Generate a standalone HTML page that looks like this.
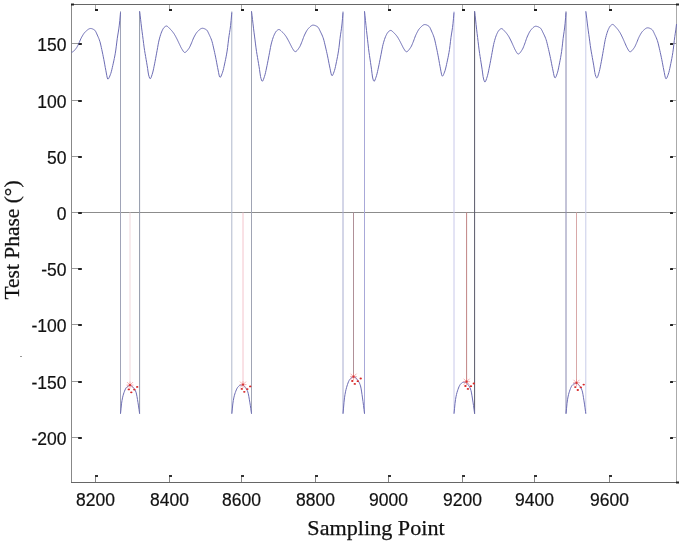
<!DOCTYPE html>
<html><head><meta charset="utf-8"><style>
html,body{margin:0;padding:0;background:#fff;}
body{width:685px;height:546px;position:relative;overflow:hidden;filter:blur(0.3px);}
.yl{position:absolute;left:0;width:66.5px;text-align:right;font:17.5px/20px "Liberation Sans",sans-serif;color:#111;-webkit-text-stroke:0.2px #111;}
.xl{position:absolute;top:489.5px;width:60px;text-align:center;font:17.5px/20px "Liberation Sans",sans-serif;color:#111;-webkit-text-stroke:0.2px #111;}
.ylab{position:absolute;left:12.2px;top:240.1px;transform:translate(-50%,-50%) rotate(-90deg) scaleX(1.073);white-space:nowrap;font:20px/22px "Liberation Serif",serif;color:#111;-webkit-text-stroke:0.25px #111;}
.xlab{position:absolute;left:376.3px;top:516.1px;transform:translateX(-50%) scaleX(1.055);white-space:nowrap;font:21px/24px "Liberation Serif",serif;color:#111;-webkit-text-stroke:0.25px #111;}
</style></head><body>
<svg width="685" height="546" viewBox="0 0 685 546" style="position:absolute;left:0;top:0">
<g fill="none" stroke-width="1">
<line x1="71.5" y1="4" x2="71.5" y2="483" stroke="#888"/>
<line x1="71" y1="4.5" x2="677" y2="4.5" stroke="#666"/>
<line x1="71" y1="482.5" x2="677" y2="482.5" stroke="#666"/>
<line x1="676.5" y1="4" x2="676.5" y2="483" stroke="#aaa"/>
<line x1="72" y1="212.5" x2="676" y2="212.5" stroke="#8c8c8c"/>
</g>
<rect x="71" y="3.5" width="3" height="2" fill="#222"/>
<rect x="676" y="3.5" width="3" height="2" fill="#222"/>
<rect x="676" y="481.5" width="3" height="2" fill="#222"/>
<rect x="20" y="356" width="2" height="1" fill="#999"/>
<rect x="95" y="475" width="1" height="7" fill="#888"/><rect x="95" y="475" width="3" height="2" fill="#333"/><rect x="95" y="5" width="1" height="5" fill="#aaa"/><rect x="95" y="9" width="3" height="2" fill="#222"/><rect x="169" y="475" width="1" height="7" fill="#888"/><rect x="169" y="475" width="3" height="2" fill="#333"/><rect x="169" y="5" width="1" height="5" fill="#aaa"/><rect x="169" y="9" width="3" height="2" fill="#222"/><rect x="241" y="475" width="1" height="7" fill="#888"/><rect x="241" y="475" width="3" height="2" fill="#333"/><rect x="241" y="5" width="1" height="5" fill="#aaa"/><rect x="241" y="9" width="3" height="2" fill="#222"/><rect x="315" y="475" width="1" height="7" fill="#888"/><rect x="315" y="475" width="3" height="2" fill="#333"/><rect x="315" y="5" width="1" height="5" fill="#aaa"/><rect x="315" y="9" width="3" height="2" fill="#222"/><rect x="388" y="475" width="1" height="7" fill="#888"/><rect x="388" y="475" width="3" height="2" fill="#333"/><rect x="388" y="5" width="1" height="5" fill="#aaa"/><rect x="388" y="9" width="3" height="2" fill="#222"/><rect x="462" y="475" width="1" height="7" fill="#888"/><rect x="462" y="475" width="3" height="2" fill="#333"/><rect x="462" y="5" width="1" height="5" fill="#aaa"/><rect x="462" y="9" width="3" height="2" fill="#222"/><rect x="534" y="475" width="1" height="7" fill="#888"/><rect x="534" y="475" width="3" height="2" fill="#333"/><rect x="534" y="5" width="1" height="5" fill="#aaa"/><rect x="534" y="9" width="3" height="2" fill="#222"/><rect x="609" y="475" width="1" height="7" fill="#888"/><rect x="609" y="475" width="3" height="2" fill="#333"/><rect x="609" y="5" width="1" height="5" fill="#aaa"/><rect x="609" y="9" width="3" height="2" fill="#222"/><rect x="72" y="43" width="7" height="1" fill="#999"/><rect x="78" y="43" width="4" height="2" rx="0.8" fill="#222"/><rect x="672" y="43" width="4" height="1" fill="#999"/><rect x="670" y="43" width="3" height="2" rx="0.6" fill="#222"/><rect x="72" y="100" width="7" height="1" fill="#999"/><rect x="78" y="100" width="4" height="2" rx="0.8" fill="#222"/><rect x="672" y="100" width="4" height="1" fill="#999"/><rect x="670" y="100" width="3" height="2" rx="0.6" fill="#222"/><rect x="72" y="156" width="7" height="1" fill="#999"/><rect x="78" y="156" width="4" height="2" rx="0.8" fill="#222"/><rect x="672" y="156" width="4" height="1" fill="#999"/><rect x="670" y="156" width="3" height="2" rx="0.6" fill="#222"/><rect x="72" y="212" width="7" height="1" fill="#999"/><rect x="78" y="212" width="4" height="2" rx="0.8" fill="#222"/><rect x="672" y="212" width="4" height="1" fill="#999"/><rect x="670" y="212" width="3" height="2" rx="0.6" fill="#222"/><rect x="72" y="268" width="7" height="1" fill="#999"/><rect x="78" y="268" width="4" height="2" rx="0.8" fill="#222"/><rect x="672" y="268" width="4" height="1" fill="#999"/><rect x="670" y="268" width="3" height="2" rx="0.6" fill="#222"/><rect x="72" y="324" width="7" height="1" fill="#999"/><rect x="78" y="324" width="4" height="2" rx="0.8" fill="#222"/><rect x="672" y="324" width="4" height="1" fill="#999"/><rect x="670" y="324" width="3" height="2" rx="0.6" fill="#222"/><rect x="72" y="381" width="7" height="1" fill="#999"/><rect x="78" y="381" width="4" height="2" rx="0.8" fill="#222"/><rect x="672" y="381" width="4" height="1" fill="#999"/><rect x="670" y="381" width="3" height="2" rx="0.6" fill="#222"/><rect x="72" y="437" width="7" height="1" fill="#999"/><rect x="78" y="437" width="4" height="2" rx="0.8" fill="#222"/><rect x="672" y="437" width="4" height="1" fill="#999"/><rect x="670" y="437" width="3" height="2" rx="0.6" fill="#222"/>
<g fill="none" stroke-width="1">
<line x1="120.5" y1="11.3" x2="120.5" y2="413.7" stroke="#a0a4b8"/><line x1="139.6" y1="11.3" x2="139.6" y2="413.7" stroke="#9098a8"/><line x1="231.8" y1="11.3" x2="231.8" y2="413.7" stroke="#b0b8cc"/><line x1="251.5" y1="11.3" x2="251.5" y2="413.7" stroke="#a0a4b4"/><line x1="343.0" y1="11.3" x2="343.0" y2="413.7" stroke="#a8acd0"/><line x1="364.5" y1="11.3" x2="364.5" y2="413.7" stroke="#a8a8d8"/><line x1="454.0" y1="11.3" x2="454.0" y2="413.7" stroke="#c8c8ea"/><line x1="474.6" y1="11.3" x2="474.6" y2="413.7" stroke="#585868"/><line x1="566.0" y1="11.3" x2="566.0" y2="413.7" stroke="#8888b0"/><line x1="585.8" y1="11.3" x2="585.8" y2="413.7" stroke="#c8cce8"/>
</g>
<g fill="none" stroke="#6c6cb4" stroke-width="1" stroke-linejoin="round">
<polyline points="71.50,52.03 71.80,52.11 72.30,52.03 72.80,51.82 73.30,51.49 73.80,51.06 74.30,50.55 74.80,49.99 75.30,49.38 75.80,48.76 76.30,48.13 76.80,47.40 77.30,46.51 77.80,45.51 78.30,44.46 78.80,43.42 79.30,42.34 79.80,41.17 80.30,39.99 80.80,38.85 81.30,37.83 81.80,36.93 82.30,36.05 82.80,35.20 83.30,34.40 83.80,33.64 84.30,32.96 84.80,32.35 85.30,31.84 85.80,31.39 86.30,30.94 86.80,30.50 87.30,30.08 87.80,29.69 88.30,29.34 88.80,29.03 89.30,28.79 89.80,28.61 90.30,28.52 90.80,28.51 91.30,28.56 91.80,28.67 92.30,28.84 92.80,29.05 93.30,29.30 93.80,29.58 94.30,29.90 94.80,30.26 95.30,30.87 95.80,31.73 96.30,32.77 96.80,33.90 97.30,35.06 97.80,36.16 98.30,37.28 98.80,38.48 99.30,39.79 99.80,41.26 100.30,42.98 100.80,45.07 101.30,47.35 101.80,49.64 102.30,51.96 102.80,54.35 103.30,56.82 103.80,59.35 104.30,62.00 104.80,64.85 105.30,67.68 105.80,70.24 106.30,72.95 106.80,75.71 107.30,77.94 107.80,79.05 108.30,78.91 108.80,78.27 109.30,77.28 109.80,76.07 110.30,74.75 110.80,73.41 111.30,71.75 111.80,69.78 112.30,67.62 112.80,65.38 113.30,63.16 113.80,60.90 114.30,58.53 114.80,55.99 115.30,53.21 115.80,50.04 116.30,46.18 116.80,42.07 117.30,38.25 117.80,35.03 118.30,32.07 118.80,28.91 119.30,25.08 119.80,20.30 120.30,14.78 120.50,12.43"/>
<polyline points="120.50,413.70 121.00,408.89 121.50,403.84 122.00,400.48 122.50,397.87 123.00,395.75 123.50,394.03 124.00,392.55 124.50,391.19 125.00,389.97 125.50,388.91 126.00,388.03 126.50,387.37 127.00,386.86 127.50,386.40 128.00,386.01 128.50,385.73 129.00,385.60 129.50,385.60 130.00,385.60 130.50,385.60 131.00,385.60 131.50,385.73 132.00,386.09 132.50,386.61 133.00,387.21 133.50,387.81 134.00,388.43 134.50,389.13 135.00,389.96 135.50,390.96 136.00,392.18 136.50,394.05 137.00,396.65 137.50,399.62 138.00,402.62 138.50,405.88 139.00,409.33 139.50,412.95 139.60,413.70"/>
<polyline points="139.60,11.30 140.10,15.15 140.60,19.28 141.10,23.68 141.60,27.88 142.10,31.79 142.60,35.59 143.10,39.41 143.60,43.36 144.10,47.17 144.60,50.55 145.10,53.55 145.60,56.43 146.10,59.36 146.60,62.28 147.10,65.23 147.60,68.42 148.10,72.02 148.60,74.93 149.10,76.65 149.60,78.02 150.10,78.72 150.60,78.48 151.10,77.54 151.60,76.15 152.10,74.56 152.60,72.97 153.10,71.02 153.60,68.75 154.10,66.29 154.60,63.82 155.10,61.30 155.60,58.63 156.10,55.90 156.60,53.17 157.10,50.47 157.60,47.64 158.10,44.82 158.60,42.21 159.10,40.01 159.60,38.10 160.10,36.33 160.60,34.71 161.10,33.24 161.60,31.94 162.10,30.81 162.60,29.78 163.10,28.85 163.60,28.06 164.10,27.46 164.60,27.01 165.10,26.60 165.60,26.26 166.10,26.06 166.60,26.04 167.10,26.20 167.60,26.51 168.10,26.92 168.60,27.41 169.10,27.94 169.60,28.47 170.10,28.97 170.60,29.46 171.10,29.99 171.60,30.55 172.10,31.14 172.60,31.76 173.10,32.42 173.60,33.11 174.10,33.84 174.60,34.65 175.10,35.51 175.60,36.42 176.10,37.36 176.60,38.31 177.10,39.28 177.60,40.30 178.10,41.35 178.60,42.41 179.10,43.47 179.60,44.50 180.10,45.55 180.60,46.63 181.10,47.65 181.60,48.55 182.10,49.35 182.60,50.20 183.10,51.00 183.60,51.70 184.10,52.20 184.60,52.44 185.10,52.39 185.60,52.17 186.10,51.82 186.60,51.36 187.10,50.80 187.60,50.18 188.10,49.51 188.60,48.83 189.10,48.14 189.60,47.27 190.10,46.24 190.60,45.12 191.10,43.98 191.60,42.84 192.10,41.59 192.60,40.30 193.10,39.05 193.60,37.92 194.10,36.94 194.60,35.98 195.10,35.06 195.60,34.19 196.10,33.38 196.60,32.66 197.10,32.03 197.60,31.51 198.10,31.02 198.60,30.53 199.10,30.07 199.60,29.63 200.10,29.23 200.60,28.89 201.10,28.61 201.60,28.41 202.10,28.30 202.60,28.28 203.10,28.33 203.60,28.44 204.10,28.59 204.60,28.79 205.10,29.03 205.60,29.30 206.10,29.59 206.60,29.92 207.10,30.46 207.60,31.25 208.10,32.22 208.60,33.29 209.10,34.39 209.60,35.45 210.10,36.51 210.60,37.63 211.10,38.85 211.60,40.20 212.10,41.74 212.60,43.63 213.10,45.76 213.60,47.96 214.10,50.15 214.60,52.40 215.10,54.73 215.60,57.12 216.10,59.57 216.60,62.23 217.10,64.97 217.60,67.57 218.10,69.99 218.60,72.67 219.10,75.15 219.60,76.89 220.10,77.38 220.60,76.98 221.10,76.11 221.60,74.93 222.10,73.58 222.60,72.21 223.10,70.57 223.60,68.56 224.10,66.32 224.60,63.99 225.10,61.68 225.60,59.31 226.10,56.82 226.60,54.11 227.10,51.12 227.60,47.53 228.10,43.33 228.60,39.15 229.10,35.55 229.60,32.43 230.10,29.24 230.60,25.43 231.10,20.58 231.60,14.87 231.80,12.43"/>
<polyline points="231.80,413.70 232.30,408.96 232.80,403.97 233.30,400.54 233.80,397.91 234.30,395.76 234.80,394.01 235.30,392.53 235.80,391.16 236.30,389.92 236.80,388.82 237.30,387.90 237.80,387.17 238.30,386.63 238.80,386.16 239.30,385.73 239.80,385.40 240.30,385.20 240.80,385.15 241.30,385.15 241.80,385.15 242.30,385.15 242.80,385.16 243.30,385.37 243.80,385.78 244.30,386.32 244.80,386.91 245.30,387.51 245.80,388.12 246.30,388.83 246.80,389.66 247.30,390.66 247.80,391.87 248.30,393.72 248.80,396.28 249.30,399.20 249.80,402.14 250.30,405.31 250.80,408.70 251.30,412.23 251.50,413.70"/>
<polyline points="251.50,11.30 252.00,15.21 252.50,19.41 253.00,23.88 253.50,28.18 254.00,32.18 254.50,36.05 255.00,39.92 255.50,43.93 256.00,47.85 256.50,51.38 257.00,54.48 257.50,57.42 258.00,60.39 258.50,63.37 259.00,66.35 259.50,69.46 260.00,73.09 260.50,76.42 261.00,78.45 261.50,80.00 262.00,81.02 262.50,81.15 263.00,80.50 263.50,79.34 264.00,77.88 264.50,76.35 265.00,74.70 265.50,72.68 266.00,70.41 266.50,68.03 267.00,65.67 267.50,63.20 268.00,60.62 268.50,58.00 269.00,55.40 269.50,52.79 270.00,50.07 270.50,47.40 271.00,44.96 271.50,42.93 272.00,41.12 272.50,39.44 273.00,37.90 273.50,36.50 274.00,35.27 274.50,34.19 275.00,33.21 275.50,32.31 276.00,31.54 276.50,30.96 277.00,30.52 277.50,30.12 278.00,29.79 278.50,29.57 279.00,29.52 279.50,29.65 280.00,29.94 280.50,30.34 281.00,30.81 281.50,31.31 282.00,31.80 282.50,32.26 283.00,32.75 283.50,33.27 284.00,33.82 284.50,34.41 285.00,35.04 285.50,35.70 286.00,36.42 286.50,37.22 287.00,38.06 287.50,38.94 288.00,39.83 288.50,40.75 289.00,41.72 289.50,42.71 290.00,43.71 290.50,44.69 291.00,45.67 291.50,46.68 292.00,47.65 292.50,48.48 293.00,49.25 293.50,50.04 294.00,50.76 294.50,51.32 295.00,51.63 295.50,51.62 296.00,51.42 296.50,51.07 297.00,50.59 297.50,50.01 298.00,49.35 298.50,48.64 299.00,47.90 299.50,47.16 300.00,46.29 300.50,45.22 301.00,44.03 301.50,42.79 302.00,41.57 302.50,40.25 303.00,38.86 303.50,37.48 304.00,36.19 304.50,35.07 305.00,34.02 305.50,33.00 306.00,32.03 306.50,31.12 307.00,30.30 307.50,29.56 308.00,28.94 308.50,28.41 309.00,27.88 309.50,27.36 310.00,26.86 310.50,26.41 311.00,26.00 311.50,25.66 312.00,25.39 312.50,25.21 313.00,25.13 313.50,25.15 314.00,25.21 314.50,25.33 315.00,25.48 315.50,25.68 316.00,25.90 316.50,26.16 317.00,26.44 317.50,26.75 318.00,27.20 318.50,27.89 319.00,28.76 319.50,29.75 320.00,30.80 320.50,31.85 321.00,32.86 321.50,33.89 322.00,34.98 322.50,36.16 323.00,37.46 323.50,38.94 324.00,40.73 324.50,42.76 325.00,44.87 325.50,46.96 326.00,49.10 326.50,51.30 327.00,53.56 327.50,55.88 328.00,58.29 328.50,60.89 329.00,63.50 329.50,65.95 330.00,68.29 330.50,70.86 331.00,73.25 331.50,75.02 332.00,75.71 332.50,75.38 333.00,74.51 333.50,73.28 334.00,71.87 334.50,70.43 335.00,68.62 335.50,66.45 336.00,64.06 336.50,61.63 337.00,59.20 337.50,56.66 338.00,53.92 338.50,50.89 339.00,47.32 339.50,42.99 340.00,38.59 340.50,34.84 341.00,31.59 341.50,28.19 342.00,23.98 342.50,18.62 343.00,12.43"/>
<polyline points="343.00,413.70 343.50,408.14 344.00,402.29 344.50,397.81 345.00,394.55 345.50,391.83 346.00,389.58 346.50,387.70 347.00,386.02 347.50,384.45 348.00,383.03 348.50,381.77 349.00,380.69 349.50,379.82 350.00,379.18 350.50,378.61 351.00,378.09 351.50,377.66 352.00,377.34 352.50,377.18 353.00,377.17 353.50,377.17 354.00,377.17 354.50,377.17 355.00,377.18 355.50,377.42 356.00,377.87 356.50,378.47 357.00,379.16 357.50,379.87 358.00,380.56 358.50,381.32 359.00,382.20 359.50,383.22 360.00,384.44 360.50,385.89 361.00,388.10 361.50,391.06 362.00,394.45 362.50,397.93 363.00,401.50 363.50,405.42 364.00,409.46 364.50,413.70"/>
<polyline points="364.50,11.30 365.00,15.77 365.50,20.64 366.00,25.72 366.50,30.42 367.00,34.87 367.50,39.26 368.00,43.81 368.50,48.27 369.00,52.19 369.50,55.65 370.00,58.98 370.50,62.39 371.00,65.78 371.50,69.27 372.00,73.38 372.50,77.02 373.00,79.10 373.50,80.68 374.00,81.33 374.50,80.96 375.00,80.00 375.50,78.66 376.00,77.17 376.50,75.66 377.00,73.83 377.50,71.70 378.00,69.40 378.50,67.07 379.00,64.73 379.50,62.24 380.00,59.69 380.50,57.12 381.00,54.60 381.50,51.97 382.00,49.31 382.50,46.79 383.00,44.58 383.50,42.74 384.00,41.03 384.50,39.45 385.00,38.01 385.50,36.71 386.00,35.58 386.50,34.58 387.00,33.64 387.50,32.82 388.00,32.14 388.50,31.65 389.00,31.23 389.50,30.86 390.00,30.58 390.50,30.43 391.00,30.45 391.50,30.65 392.00,31.00 392.50,31.44 393.00,31.94 393.50,32.44 394.00,32.90 394.50,33.38 395.00,33.89 395.50,34.44 396.00,35.03 396.50,35.65 397.00,36.30 397.50,37.02 398.00,37.81 398.50,38.65 399.00,39.53 399.50,40.43 400.00,41.36 400.50,42.33 401.00,43.33 401.50,44.32 402.00,45.30 402.50,46.29 403.00,47.30 403.50,48.22 404.00,49.01 404.50,49.80 405.00,50.57 405.50,51.22 406.00,51.65 406.50,51.76 407.00,51.64 407.50,51.35 408.00,50.93 408.50,50.40 409.00,49.78 409.50,49.10 410.00,48.37 410.50,47.63 411.00,46.88 411.50,45.93 412.00,44.82 412.50,43.61 413.00,42.37 413.50,41.15 414.00,39.81 414.50,38.42 415.00,37.04 415.50,35.78 416.00,34.67 416.50,33.63 417.00,32.62 417.50,31.65 418.00,30.74 418.50,29.91 419.00,29.17 419.50,28.54 420.00,28.01 420.50,27.47 421.00,26.95 421.50,26.45 422.00,25.99 422.50,25.57 423.00,25.21 423.50,24.91 424.00,24.70 424.50,24.59 425.00,24.57 425.50,24.63 426.00,24.74 426.50,24.90 427.00,25.11 427.50,25.36 428.00,25.65 428.50,25.97 429.00,26.32 429.50,26.90 430.00,27.75 430.50,28.78 431.00,29.91 431.50,31.07 432.00,32.20 432.50,33.32 433.00,34.51 433.50,35.81 434.00,37.25 434.50,38.91 435.00,40.95 435.50,43.21 436.00,45.54 436.50,47.85 437.00,50.24 437.50,52.71 438.00,55.24 438.50,57.86 439.00,60.69 439.50,63.58 440.00,66.28 440.50,68.88 441.00,71.71 441.50,74.23 442.00,75.85 442.50,76.11 443.00,75.60 443.50,74.66 444.00,73.44 444.50,72.10 445.00,70.72 445.50,68.99 446.00,66.93 446.50,64.68 447.00,62.37 447.50,60.08 448.00,57.71 448.50,55.18 449.00,52.43 449.50,49.35 450.00,45.54 450.50,41.31 451.00,37.32 451.50,33.99 452.00,30.94 452.50,27.62 453.00,23.48 453.50,18.31 454.00,12.43"/>
<polyline points="454.00,413.70 454.50,408.70 455.00,403.43 455.50,399.61 456.00,396.76 456.50,394.40 457.00,392.46 457.50,390.85 458.00,389.36 458.50,388.00 459.00,386.78 459.50,385.72 460.00,384.85 460.50,384.17 461.00,383.66 461.50,383.17 462.00,382.75 462.50,382.43 463.00,382.25 463.50,382.22 464.00,382.22 464.50,382.22 465.00,382.22 465.50,382.24 466.00,382.46 466.50,382.88 467.00,383.43 467.50,384.05 468.00,384.68 468.50,385.32 469.00,386.03 469.50,386.85 470.00,387.84 470.50,389.01 471.00,390.57 471.50,392.93 472.00,395.84 472.50,398.97 473.00,402.10 473.50,405.55 474.00,409.15 474.50,412.92 474.60,413.70"/>
<polyline points="474.60,11.30 475.10,15.45 475.60,19.93 476.10,24.68 476.60,29.17 477.10,33.37 477.60,37.46 478.10,41.61 478.60,45.86 479.10,49.89 479.60,53.39 480.10,56.56 480.60,59.68 481.10,62.85 481.60,66.00 482.10,69.22 482.60,72.95 483.10,76.64 483.60,78.99 484.10,80.67 484.60,81.79 485.10,81.94 485.60,81.27 486.10,80.06 486.60,78.56 487.10,76.98 487.60,75.28 488.10,73.19 488.60,70.84 489.10,68.39 489.60,65.95 490.10,63.40 490.60,60.74 491.10,58.03 491.60,55.35 492.10,52.65 492.60,49.84 493.10,47.08 493.60,44.57 494.10,42.46 494.60,40.60 495.10,38.86 495.60,37.27 496.10,35.83 496.60,34.56 497.10,33.45 497.60,32.43 498.10,31.50 498.60,30.71 499.10,30.10 499.60,29.66 500.10,29.24 500.60,28.90 501.10,28.67 501.60,28.62 502.10,28.76 502.60,29.08 503.10,29.52 503.60,30.04 504.10,30.60 504.60,31.16 505.10,31.67 505.60,32.21 506.10,32.79 506.60,33.40 507.10,34.05 507.60,34.74 508.10,35.47 508.60,36.25 509.10,37.11 509.60,38.04 510.10,39.01 510.60,40.01 511.10,41.02 511.60,42.08 512.10,43.18 512.60,44.30 513.10,45.41 513.60,46.49 514.10,47.61 514.60,48.73 515.10,49.77 515.60,50.65 516.10,51.53 516.60,52.40 517.10,53.17 517.60,53.74 518.10,54.01 518.60,53.95 519.10,53.70 519.60,53.29 520.10,52.74 520.60,52.09 521.10,51.36 521.60,50.59 522.10,49.80 522.60,48.98 523.10,47.95 523.60,46.73 524.10,45.43 524.60,44.10 525.10,42.76 525.60,41.30 526.10,39.80 526.60,38.37 527.10,37.09 527.60,35.96 528.10,34.86 528.60,33.80 529.10,32.81 529.60,31.89 530.10,31.08 530.60,30.39 531.10,29.80 531.60,29.23 532.10,28.67 532.60,28.14 533.10,27.64 533.60,27.20 534.10,26.83 534.60,26.54 535.10,26.34 535.60,26.26 536.10,26.27 536.60,26.34 537.10,26.45 537.60,26.60 538.10,26.79 538.60,27.01 539.10,27.27 539.60,27.55 540.10,27.85 540.60,28.25 541.10,28.90 541.60,29.73 542.10,30.70 542.60,31.74 543.10,32.80 543.60,33.82 544.10,34.83 544.60,35.90 545.10,37.04 545.60,38.30 546.10,39.69 546.60,41.34 547.10,43.27 547.60,45.36 548.10,47.47 548.60,49.57 549.10,51.74 549.60,53.98 550.10,56.26 550.60,58.61 551.10,61.10 551.60,63.72 552.10,66.30 552.60,68.67 553.10,71.09 553.60,73.67 554.10,75.95 554.60,77.51 555.10,77.94 555.60,77.47 556.10,76.49 556.60,75.16 557.10,73.69 557.60,72.15 558.10,70.19 558.60,67.88 559.10,65.39 559.60,62.87 560.10,60.34 560.60,57.68 561.10,54.79 561.60,51.58 562.10,47.71 562.60,43.14 563.10,38.67 563.60,34.94 564.10,31.60 564.60,27.97 565.10,23.37 565.60,17.62 566.00,12.43"/>
<polyline points="566.00,413.70 566.50,408.69 567.00,403.41 567.50,399.76 568.00,396.96 568.50,394.68 569.00,392.82 569.50,391.25 570.00,389.79 570.50,388.47 571.00,387.31 571.50,386.32 572.00,385.54 572.50,384.96 573.00,384.46 573.50,384.00 574.00,383.64 574.50,383.41 575.00,383.35 575.50,383.35 576.00,383.35 576.50,383.35 577.00,383.36 577.50,383.55 578.00,383.96 578.50,384.52 579.00,385.14 579.50,385.77 580.00,386.42 580.50,387.14 581.00,388.00 581.50,389.03 582.00,390.27 582.50,392.08 583.00,394.68 583.50,397.72 584.00,400.85 584.50,404.13 585.00,407.69 585.50,411.38 585.80,413.70"/>
<polyline points="585.80,11.30 586.30,14.96 586.80,18.88 587.30,23.06 587.80,27.11 588.30,30.86 588.80,34.49 589.30,38.11 589.80,41.85 590.30,45.55 590.80,48.93 591.30,51.90 591.80,54.66 592.30,57.43 592.80,60.22 593.30,63.00 593.80,65.85 594.30,69.12 594.80,72.45 595.30,74.76 595.80,76.30 596.30,77.48 596.80,77.96 597.30,77.53 597.80,76.42 598.30,74.89 598.80,73.23 599.30,71.50 599.80,69.34 600.30,66.88 600.80,64.30 601.30,61.74 601.80,59.04 602.30,56.22 602.80,53.37 603.30,50.57 603.80,47.68 604.30,44.72 604.80,41.89 605.30,39.41 605.80,37.36 606.30,35.47 606.80,33.73 607.30,32.16 607.80,30.76 608.30,29.55 608.80,28.46 609.30,27.47 609.80,26.62 610.30,25.97 610.80,25.49 611.30,25.06 611.80,24.71 612.30,24.49 612.80,24.47 613.30,24.65 613.80,25.00 614.30,25.46 614.80,26.00 615.30,26.58 615.80,27.16 616.30,27.69 616.80,28.24 617.30,28.83 617.80,29.45 618.30,30.12 618.80,30.82 619.30,31.55 619.80,32.33 620.30,33.19 620.80,34.12 621.30,35.11 621.80,36.13 622.30,37.16 622.80,38.22 623.30,39.33 623.80,40.47 624.30,41.63 624.80,42.77 625.30,43.89 625.80,45.05 626.30,46.20 626.80,47.26 627.30,48.17 627.80,49.07 628.30,49.98 628.80,50.78 629.30,51.40 629.80,51.74 630.30,51.74 630.80,51.55 631.30,51.23 631.80,50.78 632.30,50.24 632.80,49.63 633.30,48.97 633.80,48.30 634.30,47.61 634.80,46.78 635.30,45.77 635.80,44.66 636.30,43.53 636.80,42.40 637.30,41.17 637.80,39.88 638.30,38.63 638.80,37.49 639.30,36.50 639.80,35.54 640.30,34.62 640.80,33.75 641.30,32.94 641.80,32.21 642.30,31.58 642.80,31.06 643.30,30.57 643.80,30.08 644.30,29.62 644.80,29.18 645.30,28.78 645.80,28.44 646.30,28.16 646.80,27.96 647.30,27.85 647.80,27.83 648.30,27.88 648.80,27.98 649.30,28.13 649.80,28.32 650.30,28.54 650.80,28.80 651.30,29.09 651.80,29.40 652.30,29.83 652.80,30.51 653.30,31.40 653.80,32.41 654.30,33.50 654.80,34.58 655.30,35.63 655.80,36.69 656.30,37.82 656.80,39.05 657.30,40.42 657.80,41.99 658.30,43.89 658.80,46.01 659.30,48.19 659.80,50.36 660.30,52.59 660.80,54.89 661.30,57.25 661.80,59.66 662.30,62.24 662.80,64.95 663.30,67.60 663.80,70.01 664.30,72.58 664.80,75.20 665.30,77.38 665.80,78.62 666.30,78.63 666.80,77.97 667.30,76.90 667.80,75.56 668.30,74.12 668.80,72.59 669.30,70.64 669.80,68.38 670.30,65.96 670.80,63.52 671.30,61.08 671.80,58.51 672.30,55.75 672.80,52.70 673.30,49.14 673.80,44.82 674.30,40.39 674.80,36.51 675.30,33.21 675.80,29.90 676.30,25.97 676.50,24.09"/>
</g>
<g fill="none" stroke-width="1">
<line x1="130.0" y1="212.5" x2="130.0" y2="385.1" stroke="#f0d8dc"/><g transform="translate(130.0,385.1)"><path d="M-3,-3L3,3M-3,3L3,-3M0,-3.5L0,3.5M-3.5,0L3.5,0" stroke="#f08080" stroke-width="0.6" fill="none"/><circle cx="0" cy="0" r="1.1" fill="#d83030"/><ellipse cx="-1.2" cy="4.3" rx="1.2" ry="0.9" fill="#d82828"/><ellipse cx="1.3" cy="7.2" rx="1.2" ry="0.9" fill="#d82828"/><ellipse cx="4.3" cy="4.5" rx="1.2" ry="0.9" fill="#d82828"/><ellipse cx="7.2" cy="1.8" rx="1.2" ry="0.9" fill="#d82828"/></g><line x1="243.0" y1="212.5" x2="243.0" y2="384.6" stroke="#f4c4cc"/><g transform="translate(243.0,384.6)"><path d="M-3,-3L3,3M-3,3L3,-3M0,-3.5L0,3.5M-3.5,0L3.5,0" stroke="#f08080" stroke-width="0.6" fill="none"/><circle cx="0" cy="0" r="1.1" fill="#d83030"/><ellipse cx="-1.2" cy="4.3" rx="1.2" ry="0.9" fill="#d82828"/><ellipse cx="1.3" cy="7.2" rx="1.2" ry="0.9" fill="#d82828"/><ellipse cx="4.3" cy="4.5" rx="1.2" ry="0.9" fill="#d82828"/><ellipse cx="7.2" cy="1.8" rx="1.2" ry="0.9" fill="#d82828"/></g><line x1="353.5" y1="212.5" x2="353.5" y2="376.7" stroke="#b09098"/><g transform="translate(353.5,376.7)"><path d="M-3,-3L3,3M-3,3L3,-3M0,-3.5L0,3.5M-3.5,0L3.5,0" stroke="#f08080" stroke-width="0.6" fill="none"/><circle cx="0" cy="0" r="1.1" fill="#d83030"/><ellipse cx="-1.2" cy="4.3" rx="1.2" ry="0.9" fill="#d82828"/><ellipse cx="1.3" cy="7.2" rx="1.2" ry="0.9" fill="#d82828"/><ellipse cx="4.3" cy="4.5" rx="1.2" ry="0.9" fill="#d82828"/><ellipse cx="7.2" cy="1.8" rx="1.2" ry="0.9" fill="#d82828"/></g><line x1="466.6" y1="212.5" x2="466.6" y2="381.7" stroke="#c08484"/><g transform="translate(466.6,381.7)"><path d="M-3,-3L3,3M-3,3L3,-3M0,-3.5L0,3.5M-3.5,0L3.5,0" stroke="#f08080" stroke-width="0.6" fill="none"/><circle cx="0" cy="0" r="1.1" fill="#d83030"/><ellipse cx="-1.2" cy="4.3" rx="1.2" ry="0.9" fill="#d82828"/><ellipse cx="1.3" cy="7.2" rx="1.2" ry="0.9" fill="#d82828"/><ellipse cx="4.3" cy="4.5" rx="1.2" ry="0.9" fill="#d82828"/><ellipse cx="7.2" cy="1.8" rx="1.2" ry="0.9" fill="#d82828"/></g><line x1="576.5" y1="212.5" x2="576.5" y2="382.8" stroke="#d8a8a8"/><g transform="translate(576.5,382.8)"><path d="M-3,-3L3,3M-3,3L3,-3M0,-3.5L0,3.5M-3.5,0L3.5,0" stroke="#f08080" stroke-width="0.6" fill="none"/><circle cx="0" cy="0" r="1.1" fill="#d83030"/><ellipse cx="-1.2" cy="4.3" rx="1.2" ry="0.9" fill="#d82828"/><ellipse cx="1.3" cy="7.2" rx="1.2" ry="0.9" fill="#d82828"/><ellipse cx="4.3" cy="4.5" rx="1.2" ry="0.9" fill="#d82828"/><ellipse cx="7.2" cy="1.8" rx="1.2" ry="0.9" fill="#d82828"/></g>
</g>
</svg>
<div class="yl" style="top:35.2px">150</div><div class="yl" style="top:92.2px">100</div><div class="yl" style="top:148.2px">50</div><div class="yl" style="top:204.2px">0</div><div class="yl" style="top:260.2px">-50</div><div class="yl" style="top:316.2px">-100</div><div class="yl" style="top:373.2px">-150</div><div class="yl" style="top:429.2px">-200</div><div class="xl" style="left:65.5px">8200</div><div class="xl" style="left:139.5px">8400</div><div class="xl" style="left:211.5px">8600</div><div class="xl" style="left:285.5px">8800</div><div class="xl" style="left:358.5px">9000</div><div class="xl" style="left:432.5px">9200</div><div class="xl" style="left:504.5px">9400</div><div class="xl" style="left:579.5px">9600</div>
<div class="ylab">Test Phase (&deg;)</div>
<div class="xlab">Sampling Point</div>
</body></html>
